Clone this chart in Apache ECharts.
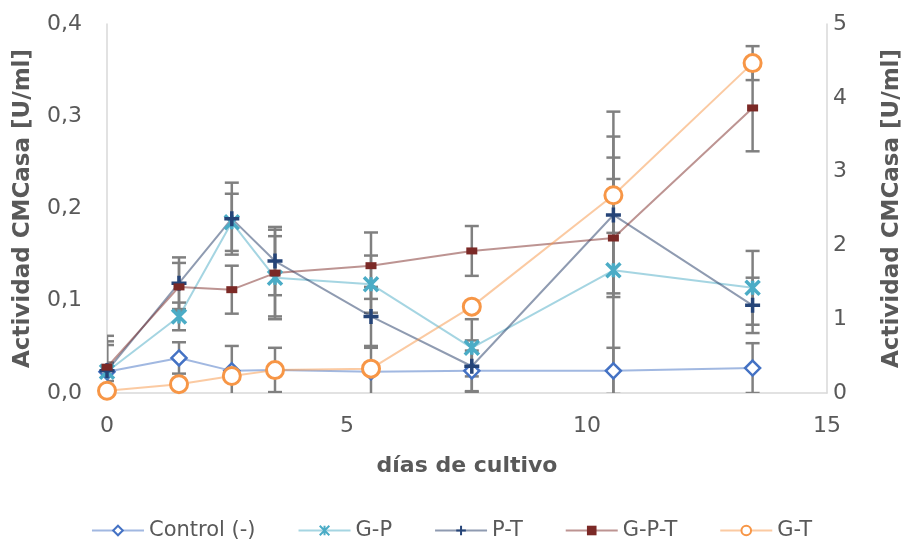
<!DOCTYPE html>
<html>
<head>
<meta charset="utf-8">
<script src="https://cdn.jsdelivr.net/npm/echarts@6/dist/echarts.min.js"></script>
<style>
  html, body { margin: 0; padding: 0; background: #fff; }
  #chart { width: 903px; height: 544px; }
</style>
</head>
<body>
<div id="chart"></div>
<script>
// Sampling days
const days = [0, 1.5, 2.6, 3.5, 5.5, 7.6, 10.55, 13.45];

// CMCasa activity [U/ml] and standard deviations per treatment
const controlVals = [0.023, 0.038, 0.024, 0.025, 0.023, 0.024, 0.024, 0.027];
const controlErr  = [0.010, 0.017, 0.027, 0.024, 0.026, 0.022, 0.025, 0.027];

const gpVals = [0.023, 0.083, 0.185, 0.125, 0.118, 0.049, 0.133, 0.114];
const gpErr  = [0.029, 0.015, 0.031, 0.045, 0.031, 0.031, 0.172, 0.040];

const ptVals = [0.024, 0.119, 0.189, 0.143, 0.083, 0.029, 0.193, 0.095];
const ptErr  = [0.032, 0.028, 0.039, 0.037, 0.032, 0.028, 0.085, 0.030];

const gptVals = [0.028, 0.115, 0.112, 0.130, 0.138, 0.154, 0.168, 0.309];
const gptErr  = [0.034, 0.026, 0.026, 0.047, 0.036, 0.027, 0.064, 0.047];

// G-T is plotted on the secondary axis
const gtVals = [0.03, 0.12, 0.23, 0.31, 0.33, 1.17, 2.68, 4.47];
const gtErr  = [0, 0, 0, 0, 0, 0, 0.51, 0.23];

const seriesNames = ['Control (-)', 'G-P', 'P-T', 'G-P-T', 'G-T'];

const pairs = (vals) => days.map((d, i) => [d, vals[i]]);
const errData = (vals, errs) => days.map((d, i) => [d, vals[i], errs[i]]);

const txt = '#595959';
const font = 'DejaVu Sans';

function errorBars(vals, errs, axisIdx) {
  return {
    type: 'custom',
    yAxisIndex: axisIdx,
    z: 1,
    silent: true,
    clip: true,
    data: errData(vals, errs),
    renderItem: function (params, api) {
      const x = api.value(0), y = api.value(1), e = api.value(2);
      if (!e) return null;
      const top = api.coord([x, y + e]);
      const bot = api.coord([x, y - e]);
      const cap = 7;
      const style = { stroke: '#808080', lineWidth: 2.5 };
      return {
        type: 'group',
        children: [
          { type: 'line', shape: { x1: top[0], y1: top[1], x2: bot[0], y2: bot[1] }, style: style },
          { type: 'line', shape: { x1: top[0] - cap, y1: top[1], x2: top[0] + cap, y2: top[1] }, style: style },
          { type: 'line', shape: { x1: bot[0] - cap, y1: bot[1], x2: bot[0] + cap, y2: bot[1] }, style: style }
        ]
      };
    }
  };
}

const asterisk = 'path://M0,0L10,10M10,0L0,10M5,0L5,10';
const plus = 'path://M5,0L5,10M0,5L10,5';

const chart = echarts.init(document.getElementById('chart'));
chart.setOption({
  animation: false,
  textStyle: { fontFamily: font },
  grid: { left: 107, right: 76, top: 24, bottom: 151, outerBoundsMode: 'none' },
  legend: {
    data: seriesNames,
    bottom: -2,
    left: 'center',
    itemWidth: 52,
    itemHeight: 12,
    itemGap: 42,
    textStyle: { color: txt, fontSize: 21, fontFamily: font }
  },
  xAxis: {
    type: 'value',
    min: 0, max: 15, interval: 5,
    name: 'días de cultivo',
    nameLocation: 'middle',
    nameGap: 62,
    nameTextStyle: { color: txt, fontSize: 22, fontWeight: 'bold', fontFamily: font },
    axisLine: { show: true, lineStyle: { color: '#d9d9d9', width: 1.5 } },
    axisTick: { show: false },
    splitLine: { show: false },
    axisLabel: { color: txt, fontSize: 22, margin: 22 }
  },
  yAxis: [
    {
      type: 'value',
      min: 0, max: 0.4, interval: 0.1,
      name: 'Actividad CMCasa [U/ml]',
      nameLocation: 'middle',
      nameGap: 72,
      nameTextStyle: { color: txt, fontSize: 23, fontWeight: 'bold', fontFamily: font },
      axisLine: { show: true, lineStyle: { color: '#d9d9d9', width: 1.5 } },
      axisTick: { show: false },
      splitLine: { show: false },
      axisLabel: {
        color: txt, fontSize: 22, margin: 25,
        formatter: v => v.toFixed(1).replace('.', ',')
      }
    },
    {
      type: 'value',
      min: 0, max: 5, interval: 1,
      name: 'Actividad CMCasa [U/ml]',
      nameLocation: 'middle',
      nameGap: 54,
      nameRotate: 90,
      nameTextStyle: { color: txt, fontSize: 23, fontWeight: 'bold', fontFamily: font },
      axisLine: { show: true, lineStyle: { color: '#d9d9d9', width: 1.5 } },
      axisTick: { show: false },
      splitLine: { show: false },
      axisLabel: { color: txt, fontSize: 22, margin: 6 }
    }
  ],
  series: [
    errorBars(controlVals, controlErr, 0),
    errorBars(gpVals, gpErr, 0),
    errorBars(ptVals, ptErr, 0),
    errorBars(gptVals, gptErr, 0),
    errorBars(gtVals, gtErr, 1),
    {
      name: 'Control (-)', type: 'line', z: 3, data: pairs(controlVals),
      symbol: 'diamond', symbolSize: 15,
      lineStyle: { color: 'rgba(68,114,196,0.5)', width: 2 },
      itemStyle: { color: '#ffffff', borderColor: '#4472C4', borderWidth: 2.5 }
    },
    {
      name: 'G-P', type: 'line', z: 3, data: pairs(gpVals),
      symbol: asterisk, symbolSize: 14,
      lineStyle: { color: 'rgba(75,172,198,0.5)', width: 2 },
      itemStyle: { color: '#4BACC6', borderColor: '#4BACC6', borderWidth: 3.5 }
    },
    {
      name: 'P-T', type: 'line', z: 3, data: pairs(ptVals),
      symbol: plus, symbolSize: 15,
      lineStyle: { color: 'rgba(31,56,100,0.5)', width: 2 },
      itemStyle: { color: '#254478', borderColor: '#254478', borderWidth: 3.5 }
    },
    {
      name: 'G-P-T', type: 'line', z: 3, data: pairs(gptVals),
      symbol: 'rect', symbolSize: [11, 7],
      lineStyle: { color: 'rgba(123,41,38,0.5)', width: 2 },
      itemStyle: { color: '#7B2926', borderWidth: 0 }
    },
    {
      name: 'G-T', type: 'line', z: 3, yAxisIndex: 1, data: pairs(gtVals),
      symbol: 'circle', symbolSize: 17,
      lineStyle: { color: 'rgba(247,150,70,0.5)', width: 2 },
      itemStyle: { color: '#ffffff', borderColor: '#F79646', borderWidth: 3 }
    }
  ]
});
</script>
</body>
</html>
